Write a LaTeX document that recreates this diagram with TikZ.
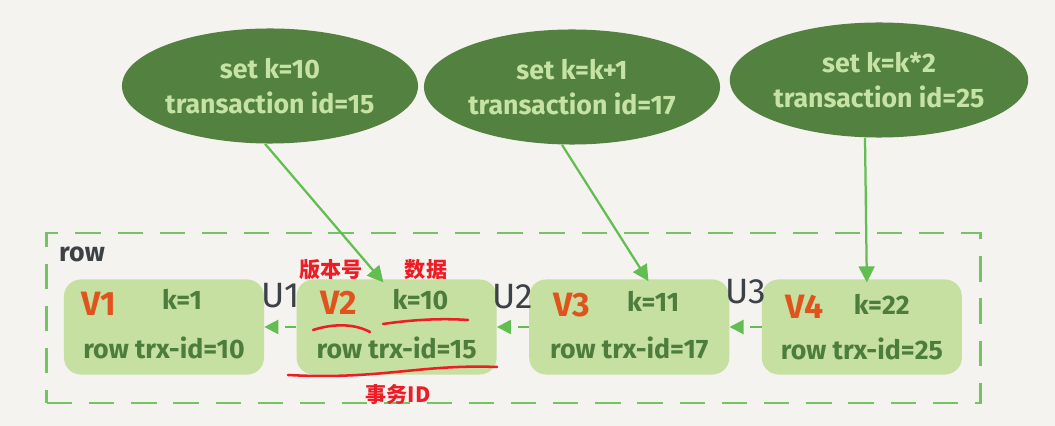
\documentclass[tikz,border=0pt]{standalone}
\usepackage{fontspec}
\setmainfont{Fira Sans}
\newfontfamily\cjk{Noto Sans CJK SC}
\usetikzlibrary{positioning, arrows.meta, shapes.geometric}

\definecolor{bgpaper}{HTML}{F4F3EF}
\definecolor{leafdark}{HTML}{538140}
\definecolor{leaftext}{HTML}{C6E3A3}
\definecolor{boxfill}{HTML}{C5E0A0}
\definecolor{boxtext}{HTML}{4D7D3D}
\definecolor{verorange}{HTML}{E0531C}
\definecolor{slate}{HTML}{3C4146}
\definecolor{linkgreen}{HTML}{62BE50}
\definecolor{notered}{HTML}{EE1C24}

\begin{document}
\begin{tikzpicture}[
        x=0.025cm, y=-0.025cm,
        node distance=0.8cm,
        % Transaction bubble (dark green ellipse)
        txn/.style={
            ellipse, fill=leafdark, text=leaftext,
            minimum width=7.4cm, minimum height=2.875cm,
            inner sep=0pt, align=center,
            font=\fontsize{19}{25}\selectfont\bfseries
        },
        % One row version (light green box)
        version/.style={
            rectangle, fill=boxfill, rounded corners=12pt,
            minimum width=5cm, minimum height=2.375cm
        },
        vname/.style={text=verorange, inner sep=0pt, anchor=west,
            font=\fontsize{24}{24}\selectfont\bfseries},
        kval/.style={text=boxtext, inner sep=0pt, anchor=west,
            font=\fontsize{19}{19}\selectfont\bfseries},
        trx/.style={text=boxtext, inner sep=0pt,
            font=\fontsize{19}{19}\selectfont\bfseries},
        ulabel/.style={text=slate, inner sep=0pt,
            font=\fontsize{25}{25}\selectfont},
        rowtag/.style={text=slate, inner sep=0pt,
            font=\fontsize{19}{19}\selectfont\bfseries},
        % Dashed frame around the row
        dashframe/.style={
            draw=linkgreen!90!white, line width=2pt,
            dash pattern=on 18pt off 12pt
        },
        % Undo-log chain: dashed arrow back to the older version
        chain/.style={
            draw=linkgreen, line width=1.6pt, dash pattern=on 8pt off 6pt,
            -{Triangle[length=0.35cm, width=0.35cm]}
        },
        % Transaction writes a version
        write/.style={
            draw=linkgreen, line width=1.6pt,
            -{Triangle[length=0.4cm, width=0.4cm]}
        },
        note/.style={text=notered, font=\cjk\fontsize{15}{15}\selectfont\bfseries},
        redline/.style={draw=notered, line width=1.8pt, line cap=round}
    ]

        % Paper
        \fill[bgpaper] (0,0) rectangle (1055,426);
        \useasboundingbox (0,0) rectangle (1055,426);

        % Row frame
        \node[dashframe, minimum width=23.325cm, minimum height=4.25cm] (rowframe) at (513.5,318) {};
        \node[rowtag] (rowname) at (82,254) {row};

        % Transactions
        \node[txn] (E1) at (270,86) {set k=10\\transaction id=15};
        \node[txn] (E2) at (572,87) {set k=k+1\\transaction id=17};
        \node[txn] (E3) at (879,80) {set k=k*2\\transaction id=25};

        % Row versions
        \node[version] (V1box) at (164,327) {};
        \node[version, right=of V1box] (V2box) {};
        \node[version, right=of V2box] (V3box) {};
        \node[version, right=of V3box] (V4box) {};

        \node[vname] (V1) at ([xshift=0.45cm, yshift=-0.62cm]V1box.north west) {V1};
        \node[kval] (K1) at ([xshift=2.45cm, yshift=-0.5cm]V1box.north west) {k=1};
        \node[trx] (T1) at ([yshift=-0.52cm]V1box.center) {row trx-id=10};

        \node[vname] (V2) at ([xshift=0.6cm, yshift=-0.6cm]V2box.north west) {V2};
        \node[kval] (K2) at ([xshift=2.4cm, yshift=-0.5cm]V2box.north west) {k=10};
        \node[trx] (T2) at ([yshift=-0.52cm]V2box.center) {row trx-id=15};

        \node[vname] (V3) at ([xshift=0.6cm, yshift=-0.65cm]V3box.north west) {V3};
        \node[kval] (K3) at ([xshift=2.45cm, yshift=-0.55cm]V3box.north west) {k=11};
        \node[trx] (T3) at ([yshift=-0.52cm]V3box.center) {row trx-id=17};

        \node[vname] (V4) at ([xshift=0.6cm, yshift=-0.68cm]V4box.north west) {V4};
        \node[kval] (K4) at ([xshift=2.3cm, yshift=-0.62cm]V4box.north west) {k=22};
        \node[trx] (T4) at ([yshift=-0.55cm]V4box.center) {row trx-id=25};

        % Undo chain
        \draw[chain] (V2box.west) -- node[ulabel, above=0.45cm] {U1} (V1box.east);
        \draw[chain] (V3box.west) -- node[ulabel, above=0.42cm] {U2} (V2box.east);
        \draw[chain] (V4box.west) -- node[ulabel, above=0.55cm] {U3} (V3box.east);

        % Writes
        \draw[write] ([xshift=-0.125cm]E1.south) -- ([xshift=-0.33cm, yshift=-0.08cm]V2box.north);
        \draw[write] ([xshift=-0.25cm]E2.south) -- ([xshift=0.48cm, yshift=-0.05cm]V3box.north);
        \draw[write] ([xshift=-0.35cm]E3.south) -- ([xshift=0.125cm, yshift=-0.08cm]V4box.north);

        % Annotations
        \node[note] (verno) at (331,270) {版本号};
        \node[note] (data) at (426,270) {数据};
        \node[note] (trxid) at (398,395) {事务ID};
        \draw[redline] (313,330) .. controls (335,323) and (355,324) .. (370,332);
        \draw[redline] (383,324) .. controls (410,320) and (440,318) .. (468,320);
        \draw[redline] (288,375) .. controls (380,380) and (420,364) .. (497,367);

    \end{tikzpicture}
\end{document}
